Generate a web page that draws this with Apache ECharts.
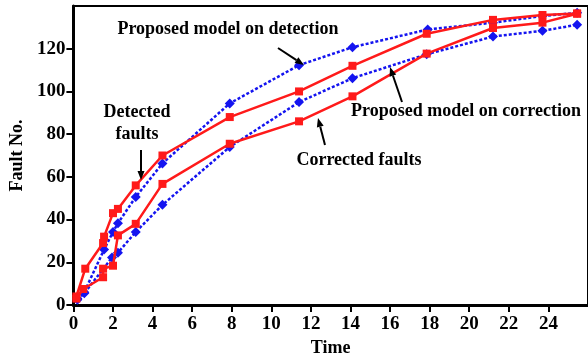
<!DOCTYPE html>
<html>
<head>
<meta charset="utf-8">
<script src="https://cdn.jsdelivr.net/npm/echarts@6/dist/echarts.min.js"></script>
<style>
html,body{margin:0;padding:0;background:#fff;}
#main{width:588px;height:362px;}
</style>
</head>
<body>
<div id="main"></div>
<script>
// ---- data ----
const timeDetected    = [0.15, 0.6, 1.5, 1.55, 2.0, 2.25, 3.15, 4.5, 7.9, 11.4, 14.1, 17.85, 21.2, 23.7, 25.45];
const detectedFaults  = [4, 17, 29, 32, 43, 45, 56, 70, 88, 100, 112, 127, 133.5, 135.8, 136.5];

const timeCorrected   = [0.15, 0.5, 1.5, 1.5, 2.0, 2.25, 3.15, 4.5, 7.9, 11.4, 14.1, 17.85, 21.2, 23.7, 25.45];
const correctedFaults = [3, 7.5, 13, 17, 18.4, 32.6, 38, 56.7, 75.5, 86, 97.7, 117.7, 129.7, 132.2, 136.4];

const timeModelDet    = [0.2, 0.55, 1.55, 2.0, 2.25, 3.15, 4.5, 7.9, 11.4, 14.1, 17.9, 21.2, 23.7, 25.45];
const modelDetection  = [3, 6, 26, 34.2, 38.3, 50.6, 66.3, 94.4, 112.3, 120.7, 129, 132.2, 135.3, 136.8];

const timeModelCor    = [0.2, 0.55, 1.95, 2.25, 3.15, 4.5, 7.9, 11.4, 14.1, 17.85, 21.2, 23.7, 25.45];
const modelCorrection = [2.5, 5.5, 22.2, 24.5, 34.2, 46.9, 74, 95, 106.2, 117.4, 125.7, 128.4, 131.2];

const yTicks = [0, 20, 40, 60, 80, 100, 120];
const xTicks = [0, 2, 4, 6, 8, 10, 12, 14, 16, 18, 20, 22, 24];

const labelDetection  = 'Proposed model on detection';
const labelDetected   = 'Detected\nfaults';
const labelCorrection = 'Proposed model on correction';
const labelCorrected  = 'Corrected faults';

// ---- chart ----
const zip = (xs, ys) => xs.map((x, i) => [x, ys[i]]);
const RED = '#ff1a1a', BLUE = '#1414f0';
const FONT = 'Liberation Serif';

function arrow(x1, y1, x2, y2) {
  const a = Math.atan2(y2 - y1, x2 - x1), L = 9, W = 3.5;
  const bx = x2 - L * Math.cos(a), by = y2 - L * Math.sin(a);
  const px = -Math.sin(a) * W, py = Math.cos(a) * W;
  return [
    { type: 'line', shape: { x1, y1, x2: bx, y2: by }, style: { stroke: '#000', lineWidth: 2 }, z: 100 },
    { type: 'polygon', shape: { points: [[x2, y2], [bx + px, by + py], [bx - px, by - py]] }, style: { fill: '#000' }, z: 100 }
  ];
}
function label(text, x, y) {
  return { type: 'text', x, y, z: 100,
    style: { text, fill: '#000', font: 'bold 18px "' + FONT + '"', align: 'center', verticalAlign: 'middle', lineHeight: 22 } };
}

const chart = echarts.init(document.getElementById('main'), null, { renderer: 'canvas' });
chart.setOption({
  animation: false,
  backgroundColor: '#fff',
  grid: { left: 72, top: 6, bottom: 53, right: -10, show: true, borderColor: '#000', borderWidth: 2, containLabel: false },
  xAxis: {
    type: 'value', min: 0, max: 26, interval: 2,
    name: 'Time', nameLocation: 'middle', nameGap: 34,
    nameTextStyle: { fontFamily: FONT, fontSize: 18, fontWeight: 'bold', color: '#000' },
    axisLine: { lineStyle: { color: '#000', width: 3 } },
    axisTick: { show: true, inside: false, length: 7, lineStyle: { color: '#000', width: 2 }, customValues: xTicks },
    axisLabel: { fontFamily: FONT, fontSize: 19, fontWeight: 'bold', color: '#000', margin: 10, customValues: xTicks },
    splitLine: { show: false }
  },
  yAxis: {
    type: 'value', min: 0, max: 140, interval: 20,
    name: 'Fault No.', nameLocation: 'middle', nameGap: 44,
    nameTextStyle: { fontFamily: FONT, fontSize: 18, fontWeight: 'bold', color: '#000' },
    axisLine: { show: true, lineStyle: { color: '#000', width: 3 } },
    axisTick: { show: true, inside: false, length: 7, lineStyle: { color: '#000', width: 2 }, customValues: yTicks },
    axisLabel: { fontFamily: FONT, fontSize: 19, fontWeight: 'bold', color: '#000', margin: 8, customValues: yTicks },
    splitLine: { show: false }
  },
  series: [
    { name: 'Proposed model on detection', type: 'line', data: zip(timeModelDet, modelDetection),
      symbol: 'diamond', symbolSize: 10, showAllSymbol: true,
      lineStyle: { color: BLUE, width: 2.5, type: [3, 2] }, itemStyle: { color: BLUE }, z: 3 },
    { name: 'Proposed model on correction', type: 'line', data: zip(timeModelCor, modelCorrection),
      symbol: 'diamond', symbolSize: 10, showAllSymbol: true,
      lineStyle: { color: BLUE, width: 2.5, type: [3, 2] }, itemStyle: { color: BLUE }, z: 3 },
    { name: 'Detected faults', type: 'line', data: zip(timeDetected, detectedFaults),
      symbol: 'rect', symbolSize: 8, showAllSymbol: true,
      lineStyle: { color: RED, width: 2.5 }, itemStyle: { color: RED }, z: 4 },
    { name: 'Corrected faults', type: 'line', data: zip(timeCorrected, correctedFaults),
      symbol: 'rect', symbolSize: 8, showAllSymbol: true,
      lineStyle: { color: RED, width: 2.5 }, itemStyle: { color: RED }, z: 4 }
  ],
  graphic: [
    label(labelDetection, 228, 29),
    ...arrow(278, 48, 304, 65),
    label(labelDetected, 137, 123),
    ...arrow(141, 150, 141, 180),
    label(labelCorrection, 466, 111),
    ...arrow(402, 102, 390, 67),
    label(labelCorrected, 359, 160),
    ...arrow(325, 145, 318, 118)
  ]
});
</script>
</body>
</html>
